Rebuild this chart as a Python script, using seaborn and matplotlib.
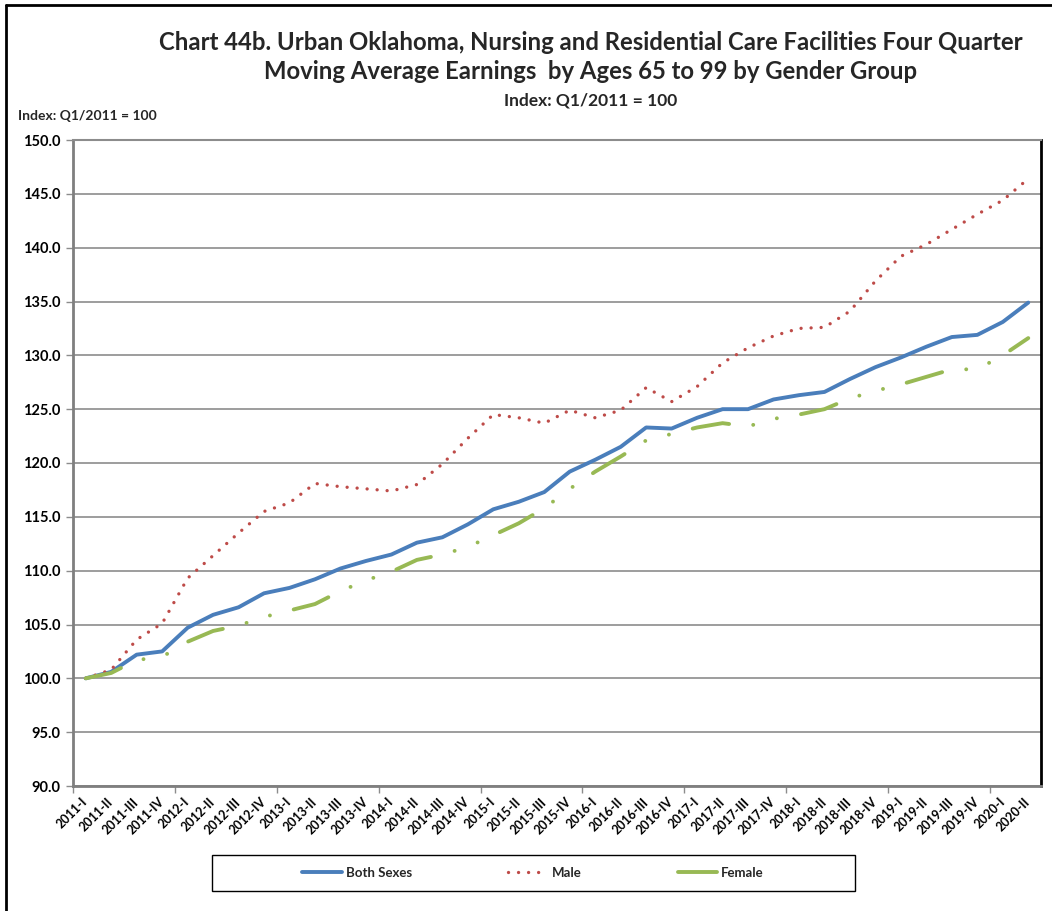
import numpy as np
import pandas as pd
import matplotlib
matplotlib.use("Agg")
import matplotlib.pyplot as plt
import seaborn as sns
from matplotlib.patches import Rectangle
from matplotlib.lines import Line2D

quarters = ["2011-I", "2011-II", "2011-III", "2011-IV", "2012-I", "2012-II", "2012-III", "2012-IV",
            "2013-I", "2013-II", "2013-III", "2013-IV", "2014-I", "2014-II", "2014-III", "2014-IV",
            "2015-I", "2015-II", "2015-III", "2015-IV", "2016-I", "2016-II", "2016-III", "2016-IV",
            "2017-I", "2017-II", "2017-III", "2017-IV", "2018-I", "2018-II", "2018-III", "2018-IV",
            "2019-I", "2019-II", "2019-III", "2019-IV", "2020-I", "2020-II"]

both_sexes = [100.0, 100.6, 102.2, 102.5, 104.7, 105.9, 106.6, 107.9, 108.4, 109.2, 110.2, 110.9,
              111.5, 112.6, 113.1, 114.3, 115.7, 116.4, 117.3, 119.2, 120.3, 121.5, 123.3, 123.2,
              124.2, 125.0, 125.0, 125.9, 126.3, 126.6, 127.8, 128.9, 129.8, 130.8, 131.7, 131.9,
              133.1, 134.9]
male = [100.0, 100.8, 103.6, 105.1, 109.3, 111.4, 113.5, 115.5, 116.3, 118.1, 117.8, 117.6,
        117.4, 118.0, 119.9, 122.3, 124.5, 124.2, 123.7, 124.9, 124.2, 124.9, 127.0, 125.7,
        127.1, 129.3, 130.7, 131.8, 132.5, 132.6, 134.1, 136.9, 139.2, 140.3, 141.7, 143.1,
        144.4, 146.4]
female = [100.0, 100.5, 101.7, 102.0, 103.4, 104.4, 104.9, 105.7, 106.3, 106.9, 108.1, 109.1,
          109.9, 111.0, 111.5, 112.2, 113.3, 114.4, 115.8, 117.6, 119.2, 120.6, 122.1, 122.7,
          123.3, 123.7, 123.4, 124.1, 124.5, 125.0, 126.0, 126.7, 127.3, 128.0, 128.7, 128.7,
          130.0, 131.6]

series_names = ["Both Sexes", "Male", "Female"]
series_colors = {"Both Sexes": "#4A7EBB", "Male": "#BE4B48", "Female": "#98B954"}

title_text = ("Chart 44b. Urban Oklahoma, Nursing and Residential Care Facilities Four Quarter\n"
              "Moving Average Earnings  by Ages 65 to 99 by Gender Group")
subtitle_text = "Index: Q1/2011 = 100"
yaxis_text = "Index: Q1/2011 = 100"
y_ticks = [90, 95, 100, 105, 110, 115, 120, 125, 130, 135, 140, 145, 150]

sns.set_theme(style="white")
plt.rcParams["font.family"] = ["Lato", "DejaVu Sans"]
plt.rcParams["font.weight"] = "bold"

n = len(quarters)
df = pd.DataFrame({
    "x": list(range(n)) * 3,
    "value": both_sexes + male + female,
    "series": ["Both Sexes"] * n + ["Male"] * n + ["Female"] * n,
})

W, H = 1052, 911
fig = plt.figure(figsize=(W / 100, H / 100), dpi=100)
ax = fig.add_axes([73 / W, 1 - 786 / H, (1041 - 73) / W, (786 - 140) / H])

styles = {
    "Both Sexes": dict(lw=2.8),
    "Male": dict(lw=2.4),
    "Female": dict(lw=2.8),
}
for name in series_names:
    sub = df[df["series"] == name]
    sns.lineplot(data=sub, x="x", y="value", ax=ax, color=series_colors[name],
                 lw=styles[name]["lw"], legend=False, zorder=3)

lines = ax.get_lines()
lines[0].set_solid_capstyle("round")
lines[0].set_solid_joinstyle("round")
lines[1].set_dashes([0.01, 3.0])
lines[1].set_dash_capstyle("round")
lines[2].set_dashes([9.5, 6.3, 0.01, 6.3, 0.01, 6.3])
lines[2].set_dash_capstyle("round")

ax.set_xlim(-0.5, n - 0.5)
ax.set_ylim(90, 150)
ax.set_yticks(y_ticks)
ax.set_yticklabels([f"{v:.1f}" for v in y_ticks], fontsize=10.5, fontweight="bold", color="black")
ax.yaxis.grid(True, color="#8C8C8C", lw=1.2)
ax.xaxis.grid(False)

ax.set_xticks(np.arange(-0.5, n, 4))
ax.set_xticklabels([])
ax.set_xticks(np.arange(n), minor=True)
ax.set_xticklabels(quarters, minor=True, rotation=45, ha="right", va="center",
                   rotation_mode="anchor", fontsize=9, fontweight="bold", color="black")
ax.tick_params(axis="x", which="major", direction="out", length=5, width=1, color="#8C8C8C", bottom=True)
ax.tick_params(axis="x", which="minor", length=0, pad=10)
ax.tick_params(axis="y", direction="out", length=5, width=1, color="#8C8C8C", left=True, pad=4)
ax.set_xlabel("")
ax.set_ylabel("")

for side in ["left", "bottom"]:
    ax.spines[side].set_color("#7F7F7F")
    ax.spines[side].set_linewidth(2)
ax.spines["right"].set_color("black")
ax.spines["right"].set_linewidth(2)
ax.spines["top"].set_color("#8C8C8C")
ax.spines["top"].set_linewidth(1.5)

fig.text(591 / W, 1 - 57 / H, title_text, ha="center", va="center", fontsize=17.2,
         fontweight="bold", linespacing=1.3)
fig.text(591 / W, 1 - 100 / H, subtitle_text, ha="center", va="center", fontsize=12.5,
         fontweight="bold")
fig.text(18 / W, 1 - 116 / H, yaxis_text, ha="left", va="center", fontsize=10,
         fontweight="bold")

fig.add_artist(Line2D([6 / W, 6 / W], [0, 1 - 5 / H], transform=fig.transFigure, color="black", lw=2))
fig.add_artist(Line2D([6 / W, 1], [1 - 5 / H, 1 - 5 / H], transform=fig.transFigure, color="black", lw=2))

fig.add_artist(Rectangle((212 / W, 1 - 891 / H), (855 - 212) / W, (891 - 855) / H,
                         transform=fig.transFigure, fill=False, edgecolor="black", lw=1))
handles = [Line2D([], [], color=series_colors["Both Sexes"], lw=2.8),
           Line2D([], [], color=series_colors["Male"], lw=2.4, dashes=[0.01, 3.0], dash_capstyle="round"),
           Line2D([], [], color=series_colors["Female"], lw=2.8)]
fig.legend(handles, series_names, loc="center", bbox_to_anchor=(533 / W, 1 - 873 / H), ncol=3,
           frameon=False, handlelength=3.0, columnspacing=7.3, handletextpad=0.3,
           prop={"weight": "bold", "size": 9.5})

fig.savefig("out.png", dpi=100, facecolor="white")
